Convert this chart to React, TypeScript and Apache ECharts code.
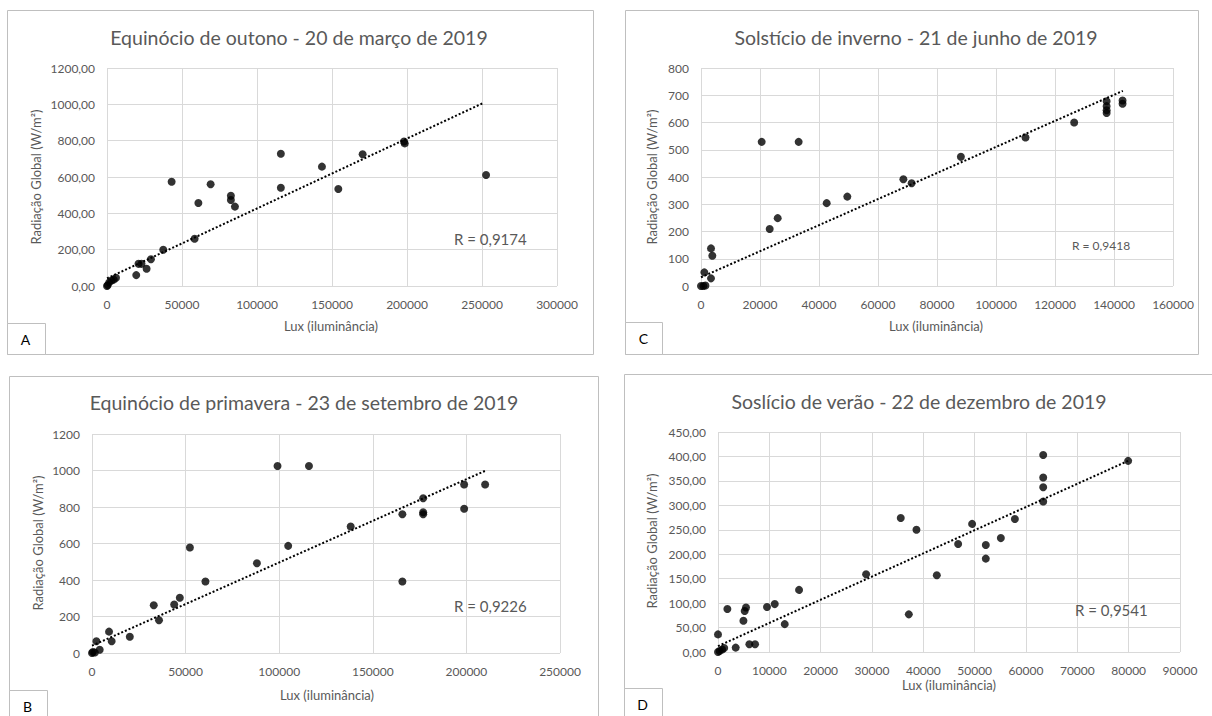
import React, { useEffect, useRef } from "react";
import * as echarts from "echarts";

// A – Equinócio de outono (20/03/2019)
const luxA = [0, 500, 1500, 3000, 4500, 6000, 19500, 21000, 23000, 26400, 29300, 37500, 43100, 58400, 60900, 69100, 82600, 82600, 85300, 115900, 115900, 143300, 154200, 170400, 198000, 198500, 252700];
const radA = [0, 5, 20, 30, 35, 45, 60, 122, 122, 95, 147, 200, 574, 260, 457, 560, 497, 473, 437, 728, 541, 657, 534, 725, 795, 785, 611];
const trendA = [[0, 42], [250500, 1006]];

// C – Solstício de inverno (21/06/2019)
const luxC = [0, 800, 1500, 1130, 3390, 3840, 3390, 20570, 23280, 26000, 33100, 42600, 49600, 68600, 71400, 88100, 110000, 126500, 137500, 137500, 137500, 137500, 142900, 142900];
const radC = [0, 0, 2, 50, 138, 111, 28, 529, 209, 249, 529, 304, 328, 392, 377, 474, 545, 600, 678, 660, 645, 635, 681, 669];
const trendC = [[0, 32], [143000, 716]];

// B – Equinócio de primavera (23/09/2019)
const luxB = [0, 500, 1500, 2350, 4100, 9100, 10500, 20200, 33000, 35800, 43900, 46900, 52300, 60600, 88100, 99100, 104800, 115900, 138200, 165800, 165800, 176900, 176900, 176900, 198800, 198800, 210000];
const radB = [0, 5, 3, 64, 18, 117, 64, 89, 262, 179, 266, 303, 578, 392, 492, 1025, 587, 1025, 693, 760, 392, 848, 771, 760, 923, 790, 923];
const trendB = [[0, 40], [210000, 998]];

// D – Solstício de verão (22/12/2019)
const luxD = [0, 0, 300, 800, 1200, 1830, 3450, 4950, 5200, 5460, 6110, 7220, 9550, 11050, 13000, 15790, 28850, 35600, 37170, 38660, 42620, 46780, 49500, 52170, 52170, 55100, 57830, 63350, 63350, 63350, 63350, 79900];
const radD = [36, 0, 2, 5, 8, 88, 9, 64, 84, 91, 16, 16, 92, 98, 57, 127, 159, 274, 77, 250, 157, 221, 262, 219, 191, 233, 272, 403, 357, 337, 308, 391];
const trendD = [[0, 12], [79900, 391]];

const titles = [
  "Equinócio de outono - 20 de março de 2019",
  "Solstício de inverno - 21 de junho de 2019",
  "Equinócio de primavera - 23 de setembro de 2019",
  "Soslício de verão - 22 de dezembro de 2019",
];
const rLabels = ["R = 0,9174", "R = 0,9418", "R = 0,9226", "R = 0,9541"];
const panelLetters = ["A", "C", "B", "D"];

const xMax = [300000, 160000, 250000, 90000];
const xStep = [50000, 20000, 50000, 10000];
const yMax = [1200, 800, 1200, 450];
const yStep = [200, 100, 200, 50];
const yDecimals = [2, 0, 0, 2];

const FONT = "Lato, 'Liberation Sans', sans-serif";
const GREY = "#595959";

const zip = (xs: number[], ys: number[]) => xs.map((x, i) => [x, ys[i]]);

export default function App() {
  const ref = useRef<HTMLDivElement>(null);

  useEffect(() => {
    if (!ref.current) return;
    const chart = echarts.init(ref.current, undefined, { renderer: "svg" });

    const sets: [number[], number[], number[][]][] = [
      [luxA, radA, trendA],
      [luxC, radC, trendC],
      [luxB, radB, trendB],
      [luxD, radD, trendD],
    ];

    // plot areas: A, C (top row), B, D (bottom row)
    const grids = [
      { left: 107, top: 68, width: 450, height: 218 },
      { left: 701, top: 68, width: 472, height: 218 },
      { left: 92, top: 434, width: 468, height: 219 },
      { left: 718, top: 432, width: 462, height: 220 },
    ];

    // outer frames of each panel
    const frames = [
      { x: 7.5, y: 10.5, w: 586, h: 344 },
      { x: 625.5, y: 10.5, w: 573, h: 344 },
      { x: 9.5, y: 376.5, w: 589, h: 360 },
      { x: 624.5, y: 374.5, w: 600, h: 360 },
    ];
    const letterBoxes = [
      { x: 7.5, y: 323.5, w: 38, h: 31 },
      { x: 625.5, y: 322.5, w: 37, h: 32 },
      { x: 9.5, y: 690.5, w: 38, h: 40 },
      { x: 624.5, y: 688.5, w: 38, h: 40 },
    ];
    const titlePos = [
      [299, 37],
      [916, 37],
      [304, 402],
      [919, 401],
    ];
    const yNamePos = [
      [36, 177],
      [652, 177],
      [38, 543],
      [652, 541],
    ];
    const xNamePos = [
      [331, 326],
      [936, 326],
      [327, 695],
      [949, 685],
    ];
    const rPos = [
      [454, 239, 15],
      [1072, 245, 12],
      [454, 606, 15],
      [1075, 610, 15],
    ];

    const graphic: any[] = [];
    frames.forEach((f, i) => {
      graphic.push({
        type: "rect",
        shape: { x: f.x, y: f.y, width: f.w, height: f.h },
        style: { fill: "none", stroke: "#bfbfbf", lineWidth: 1 },
        silent: true,
      });
      const lb = letterBoxes[i];
      graphic.push({
        type: "rect",
        shape: { x: lb.x, y: lb.y, width: lb.w, height: lb.h },
        style: { fill: "#fff", stroke: "#bfbfbf", lineWidth: 1 },
        silent: true,
      });
      graphic.push({
        type: "text",
        x: lb.x + 18,
        y: lb.y + 16,
        style: {
          text: panelLetters[i],
          fill: "#000",
          font: `14px ${FONT}`,
          textAlign: "center",
          textVerticalAlign: "middle",
        },
      });
      graphic.push({
        type: "text",
        x: titlePos[i][0],
        y: titlePos[i][1],
        style: {
          text: titles[i],
          fill: GREY,
          font: `19.5px ${FONT}`,
          textAlign: "center",
          textVerticalAlign: "middle",
        },
      });
      graphic.push({
        type: "text",
        x: yNamePos[i][0],
        y: yNamePos[i][1],
        rotation: Math.PI / 2,
        style: {
          text: "Radiação Global (W/m²)",
          fill: GREY,
          font: `13px ${FONT}`,
          textAlign: "center",
          textVerticalAlign: "middle",
        },
      });
      graphic.push({
        type: "text",
        x: xNamePos[i][0],
        y: xNamePos[i][1],
        style: {
          text: "Lux (iluminância)",
          fill: GREY,
          font: `13px ${FONT}`,
          textAlign: "center",
          textVerticalAlign: "middle",
        },
      });
      graphic.push({
        type: "text",
        x: rPos[i][0],
        y: rPos[i][1],
        z: 10,
        style: {
          text: rLabels[i],
          fill: GREY,
          font: `${rPos[i][2]}px ${FONT}`,
          textAlign: "left",
          textVerticalAlign: "middle",
        },
      });
    });

    const xAxis = grids.map((_, i) => ({
      gridIndex: i,
      type: "value",
      min: 0,
      max: xMax[i],
      interval: xStep[i],
      axisLine: { show: false },
      axisTick: { show: false },
      splitLine: { show: true, lineStyle: { color: "#d9d9d9", width: 1 } },
      axisLabel: {
        color: GREY,
        fontSize: 12,
        fontFamily: FONT,
        margin: 12,
        formatter: (v: number) => String(v),
      },
    }));
    const yAxis = grids.map((_, i) => ({
      gridIndex: i,
      type: "value",
      min: 0,
      max: yMax[i],
      interval: yStep[i],
      axisLine: { show: false },
      axisTick: { show: false },
      splitLine: { show: true, lineStyle: { color: "#d9d9d9", width: 1 } },
      axisLabel: {
        color: GREY,
        fontSize: 12,
        fontFamily: FONT,
        margin: 12,
        formatter: (v: number) => v.toFixed(yDecimals[i]).replace(".", ","),
      },
    }));

    const series: any[] = [];
    sets.forEach(([xs, ys, tr], i) => {
      series.push({
        type: "scatter",
        xAxisIndex: i,
        yAxisIndex: i,
        symbol: "circle",
        symbolSize: 8,
        itemStyle: { color: "#000" },
        data: zip(xs, ys),
        z: 3,
      });
      // linear trend line (dotted)
      series.push({
        type: "line",
        xAxisIndex: i,
        yAxisIndex: i,
        symbol: "none",
        data: tr,
        lineStyle: { color: "#000", width: 2, type: [2, 2] },
        z: 4,
      });
    });

    chart.setOption({
      animation: false,
      backgroundColor: "#fff",
      grid: grids,
      xAxis,
      yAxis,
      series,
      graphic,
    });

    return () => chart.dispose();
  }, []);

  return (
    <div
      ref={ref}
      style={{ position: "fixed", left: 0, top: 0, width: 1212, height: 716 }}
    />
  );
}
